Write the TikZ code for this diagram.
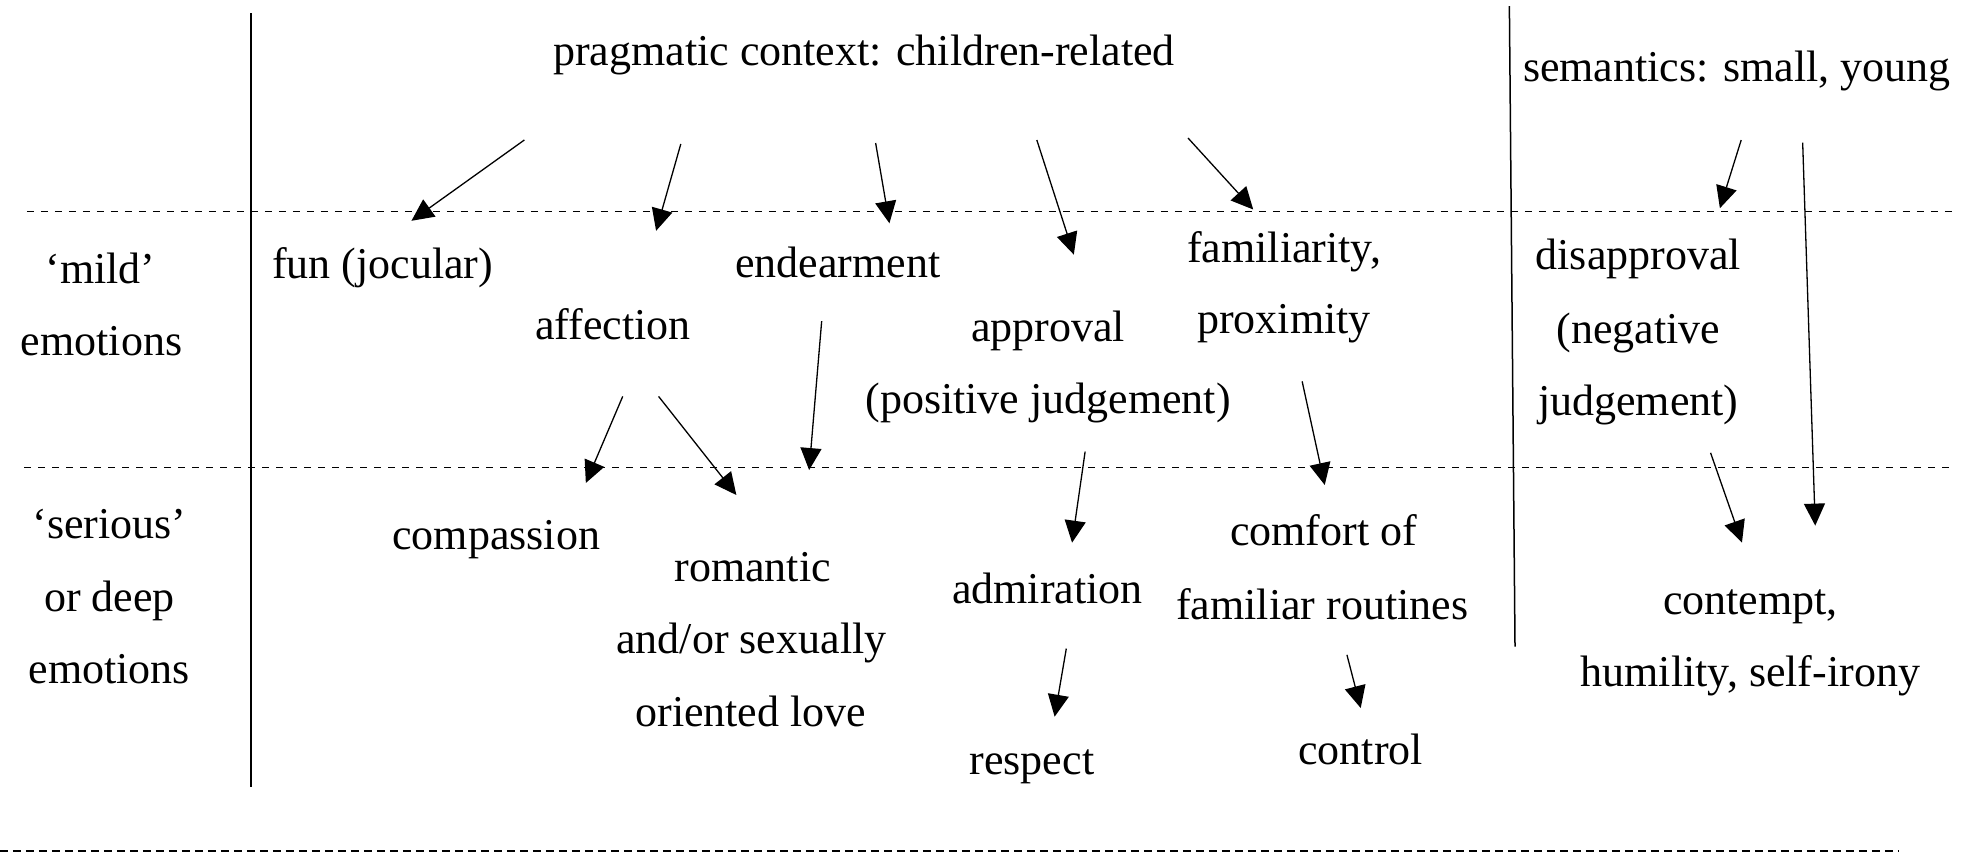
\documentclass[tikz,border=0pt]{standalone}
\usepackage{fontspec}
\setmainfont{Liberation Serif}
\usetikzlibrary{arrows.meta}
\begin{document}
\begin{tikzpicture}[x=1.2545pt,y=-1.2545pt,
  txt/.style={font=\fontsize{44}{72}\selectfont, inner sep=0pt, align=center, anchor=base},
  arr/.style={line width=1.3pt, -{Triangle[length=22pt,width=21pt]}},
  sep/.style={line width=1.5pt},
  dsep/.style={line width=1.3pt, dash pattern=on 7pt off 7pt},
  dsepb/.style={line width=2pt, dash pattern=on 8pt off 5pt}]
\useasboundingbox (0,0) rectangle (1568,679);
% separators
\coordinate (vl1) at (200,10.6);
\coordinate (vl2) at (200,627);
\coordinate (vr1) at (1203.2,4.8);
\coordinate (vr2) at (1207.7,515.5);
\coordinate (h1a) at (21.5,168.7);
\coordinate (h1b) at (1557,168.7);
\coordinate (h2a) at (19.5,372.8);
\coordinate (h2b) at (1556,372.8);
\coordinate (h3a) at (0,678);
\coordinate (h3b) at (1514,678);
\draw[sep] (vl1) -- (vl2);
\draw[sep] (vr1) -- (vr2);
\draw[dsep] (h1a) -- (h1b);
\draw[dsep] (h2a) -- (h2b);
\draw[dsepb] (h3a) -- (h3b);
% texts
\node[txt] (prag) at (688.7,52) {pragmatic context: children-related};
\node[txt] (sem) at (1384.6,65) {semantics: small, young};
\node[txt] (mild) at (80,226) {‘mild’};
\node[txt] (mildemo) at (81,283) {emotions};
\node[txt] (serious) at (87.2,429) {‘serious’};
\node[txt] (ordeep) at (87.2,487.6) {or deep};
\node[txt] (deepemo) at (87.2,544.6) {emotions};
\node[txt] (fun) at (305,222) {fun (jocular)};
\node[txt] (affection) at (488.5,271) {affection};
\node[txt] (endear) at (668,221) {endearment};
\node[txt] (approval) at (835.5,272.4) {approval};
\node[txt] (posjudg) at (835.5,330) {(positive judgement)};
\node[txt] (famil) at (1023.6,209) {familiarity,};
\node[txt] (prox) at (1023.6,266) {proximity};
\node[txt] (disappr) at (1306,215) {disapproval};
\node[txt] (neg) at (1306,273.5) {(negative};
\node[txt] (negjudg) at (1306,331) {judgement)};
\node[txt] (compassion) at (395.5,438.4) {compassion};
\node[txt] (romantic) at (600,463.7) {romantic};
\node[txt] (sexually) at (599,520.7) {and/or sexually};
\node[txt] (love) at (598.5,579) {oriented love};
\node[txt] (admir) at (835,480.8) {admiration};
\node[txt] (respect) at (822.6,617) {respect};
\node[txt] (comfort) at (1055,435) {comfort of};
\node[txt] (routines) at (1054,493.7) {familiar routines};
\node[txt] (control) at (1084.7,609.8) {control};
\node[txt] (contempt) at (1395.3,490) {contempt,};
\node[txt] (humility) at (1395.3,547) {humility, self-irony};
% arrow end points
\coordinate (a1s) at (418,111.6);   \coordinate (a1e) at (328,176);
\coordinate (a2s) at (542.7,114.8); \coordinate (a2e) at (523,184);
\coordinate (a3s) at (698,114);     \coordinate (a3e) at (709,178);
\coordinate (a4s) at (826.5,111.6); \coordinate (a4e) at (856,203);
\coordinate (a5s) at (947,110);     \coordinate (a5e) at (999,167);
\coordinate (a6s) at (1388,111.6);  \coordinate (a6e) at (1371,166);
\coordinate (a7s) at (1437,113.7);  \coordinate (a7e) at (1447,419);
\coordinate (a8s) at (496.4,316);   \coordinate (a8e) at (467,385);
\coordinate (a9s) at (525,316);     \coordinate (a9e) at (587,394.6);
\coordinate (a10s) at (655,256);    \coordinate (a10e) at (645,374.7);
\coordinate (a11s) at (865,360);    \coordinate (a11e) at (854.6,432.6);
\coordinate (a12s) at (1038,304);   \coordinate (a12e) at (1056,386.6);
\coordinate (a13s) at (1363.6,361); \coordinate (a13e) at (1388.6,432.6);
\coordinate (a14s) at (850,517);    \coordinate (a14e) at (840.7,571.3);
\coordinate (a15s) at (1073.7,522); \coordinate (a15e) at (1084.7,564.4);
\foreach \i in {1,...,15} {\draw[arr] (a\i s) -- (a\i e);}
\end{tikzpicture}
\end{document}
